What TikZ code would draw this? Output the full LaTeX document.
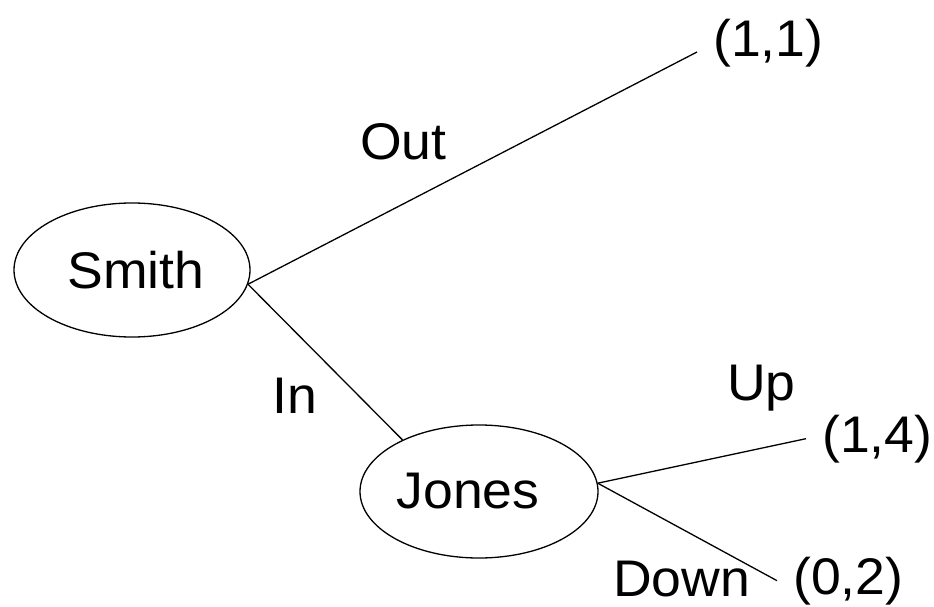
\documentclass[tikz,border=0pt]{standalone}
\usepackage{fontspec}
\setmainfont{Liberation Sans}[FakeStretch=1.04]
\usetikzlibrary{shapes.geometric}
\begin{document}
\begin{tikzpicture}[x=1pt,y=-1pt,
  every node/.style={font=\fontsize{51.5}{60}\selectfont},
  player/.style={draw,ellipse,line width=1.3pt,inner sep=0pt},
  lbl/.style={anchor=base west,inner sep=0pt},
  payoff/.style={anchor=base west,inner xsep=16pt,inner ysep=0pt},
  branch/.style={line width=1.3pt}]
\useasboundingbox (0,0) rectangle (934,607);
\node[player,minimum width=236pt,minimum height=134pt] (smith) at (132,270) {Smith\hspace*{-8pt}};
\node[player,minimum width=238pt,minimum height=133pt] (jones) at (479,491.5) {\hspace*{-22pt}Jones};
\node[payoff] (p11) at (697,57) {(1,1)};
\node[payoff] (p14) at (806,452) {(1,4)};
\node[payoff] (p02) at (777,594) {(0,2)};
\node[lbl] (out) at (360,160) {Out};
\node[lbl] (in) at (272,413) {In};
\node[lbl] (up) at (727,400) {Up};
\node[lbl,text depth=0pt] (down) at (613,596) {Down};
\coordinate (e11) at ([yshift=5pt]p11.base west);
\draw[branch] (smith.-7) -- (e11);
\draw[branch] (smith.-7) -- (jones.146);
\draw[branch] (jones.4) -- (p14.west);
\draw[branch] (jones.4) -- (p02.west);
\end{tikzpicture}
\end{document}
